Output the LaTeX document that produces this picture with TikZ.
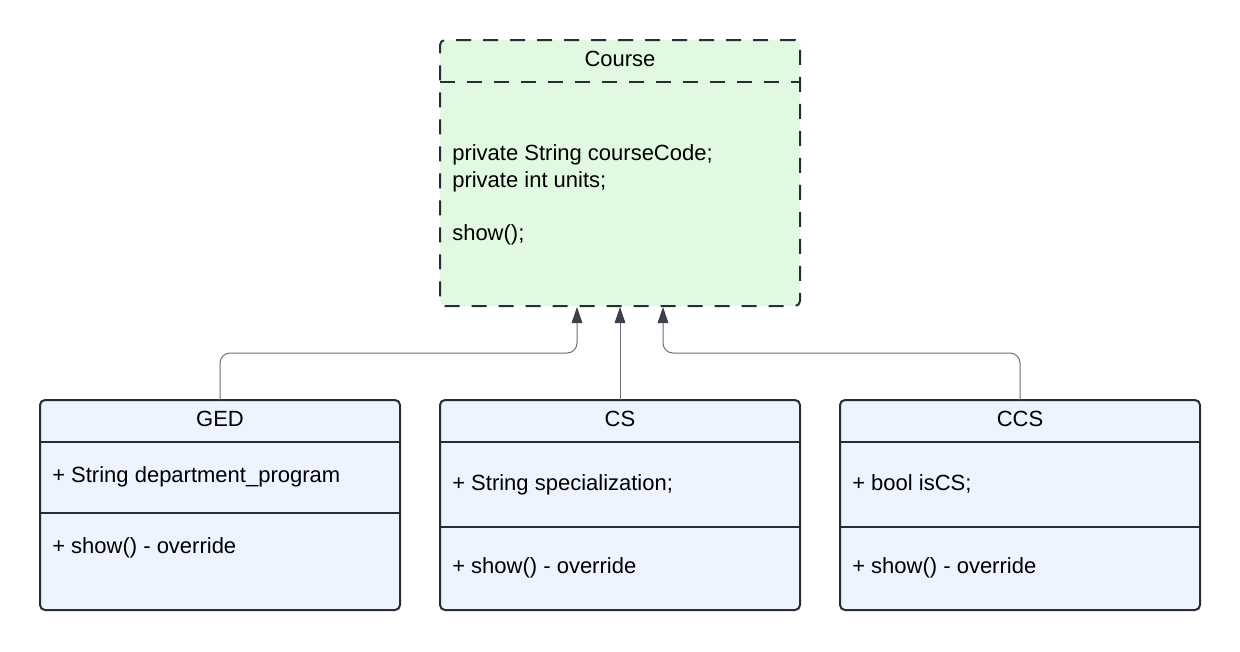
\documentclass[tikz,border=0pt]{standalone}
\usepackage{fontspec}
\setmainfont{Liberation Sans}
\usetikzlibrary{arrows.meta,calc}
\definecolor{strokec}{HTML}{282C33}
\definecolor{greenf}{HTML}{E1F9E1}
\definecolor{bluef}{HTML}{EDF4FF}
\definecolor{connc}{HTML}{6B6F76}
\definecolor{headc}{HTML}{3A414A}
\tikzset{
  classbox/.style={draw=strokec, line width=1.5pt, rounded corners=3.75pt, inner sep=0pt, outer sep=0pt, anchor=north west},
  coursebox/.style={classbox, fill=greenf, dash pattern=on 11.25pt off 9pt},
  childbox/.style={classbox, fill=bluef, minimum width=270pt, minimum height=157.5pt},
  divider/.style={draw=strokec, line width=1.5pt},
  dashdiv/.style={divider, dash pattern=on 11.25pt off 9pt},
  txt/.style={font=\fontsize{16.5pt}{20pt}\selectfont, text=black, inner sep=0pt, anchor=base west},
  title/.style={txt, anchor=base},
  conn/.style={draw=connc, line width=0.75pt, rounded corners=7.5pt,
    -{Triangle[length=12pt,width=8pt,color=headc]}},
}
\begin{document}
\begin{tikzpicture}[x=0.75pt,y=-0.75pt]
\useasboundingbox (0,0) rectangle (1240,651);
% Course
\node[coursebox, minimum width=270pt, minimum height=199.5pt] (course) at (440,40) {};
\draw[dashdiv] (course.west |- 0,82) coordinate (cdl) -- (course.east |- 0,82) coordinate (cdr);
\node[title] (ctitle) at (620,66) {Course};
\node[txt] (c1) at (452,160) {private String courseCode;};
\node[txt] (c2) at (452,187) {private int units;};
\node[txt] (c3) at (452,240) {show();};
% GED
\node[childbox] (ged) at (40,400) {};
\draw[divider] (ged.west |- 0,442) -- (ged.east |- 0,442);
\draw[divider] (ged.west |- 0,513) -- (ged.east |- 0,513);
\node[title] (gt) at (220,426) {GED};
\node[txt] (g1) at (52,482.5) {+ String department\_program};
\node[txt] (g2) at (52,553) {+ show() - override};
% CS
\node[childbox] (cs) at (440,400) {};
\draw[divider] (cs.west |- 0,442) -- (cs.east |- 0,442);
\draw[divider] (cs.west |- 0,527) -- (cs.east |- 0,527);
\node[title] (cst) at (620,426) {CS};
\node[txt] (cs1) at (452,490) {+ String specialization;};
\node[txt] (cs2) at (452,573) {+ show() - override};
% CCS
\node[childbox] (ccs) at (840,400) {};
\draw[divider] (ccs.west |- 0,442) -- (ccs.east |- 0,442);
\draw[divider] (ccs.west |- 0,527) -- (ccs.east |- 0,527);
\node[title] (ccst) at (1020,426) {CCS};
\node[txt] (ccs1) at (852,490) {+ bool isCS;};
\node[txt] (ccs2) at (852,573) {+ show() - override};
% connectors
\coordinate (inL) at (577,307);
\coordinate (inM) at (620,307);
\coordinate (inR) at (663,307);
\draw[conn] (ged.north) |- ($(inL)+(0,46)$) -- (inL);
\draw[conn] (cs.north) -- (inM);
\draw[conn] (ccs.north) |- ($(inR)+(0,46)$) -- (inR);
\end{tikzpicture}
\end{document}
